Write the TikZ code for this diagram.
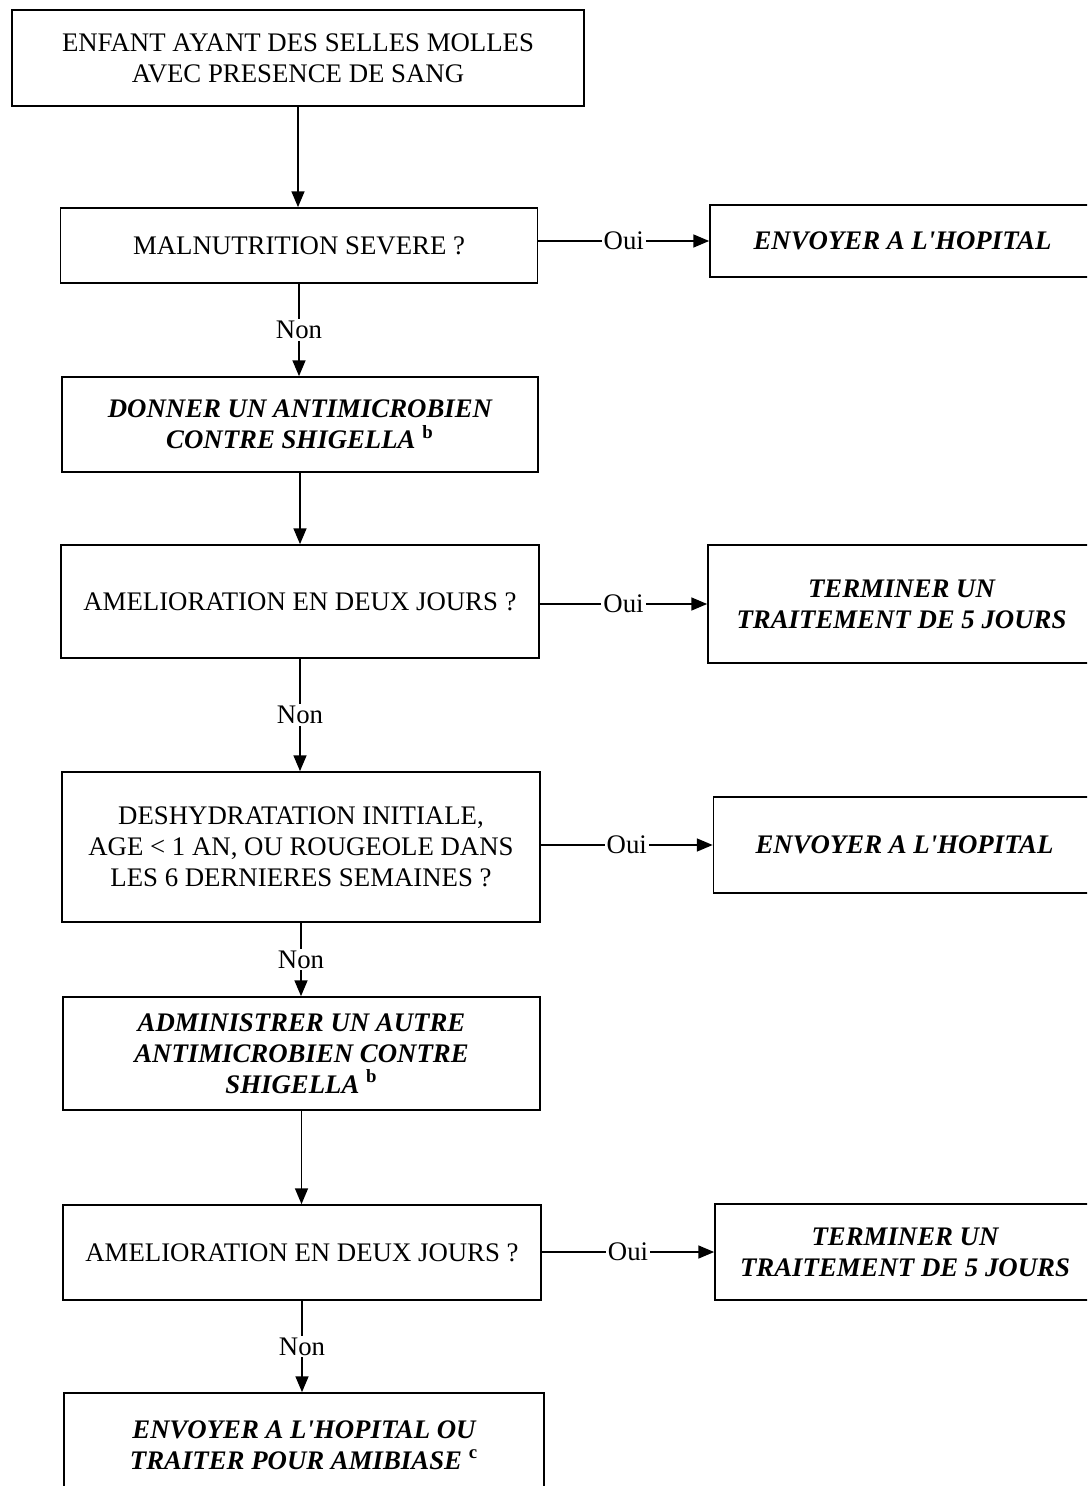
\documentclass[tikz,border=0pt]{standalone}
\usepackage{fontspec}
\setmainfont{Liberation Serif}
\usetikzlibrary{arrows}

\tikzset{
  boite/.style={draw, line width=0.9pt, rectangle, align=center, font=\fontsize{13.4}{15.5}\selectfont, inner sep=2pt},
  action/.style={boite, font=\fontsize{13.4}{15.5}\selectfont\bfseries\itshape},
  fleche/.style={line width=0.8pt, -triangle 45},
  rep/.style={fill=white, inner sep=1pt, font=\fontsize{13.4}{14}\selectfont}
}
\newcommand{\renvoi}[1]{\textsuperscript{\upshape #1}}

\begin{document}
\begin{tikzpicture}[x=0.5pt, y=-0.5pt]
  \clip (0,0) rectangle (1087,1486);
  \fill[white] (0,0) rectangle (1087,1486);

  % colonne de gauche
  \node[boite, minimum width=286pt, minimum height=48pt] (depart) at (298,58) {ENFANT AYANT DES SELLES MOLLES\\AVEC PRESENCE DE SANG};
  \node[boite, minimum width=238.5pt, minimum height=37.5pt] (malnu) at (299,245.5) {MALNUTRITION SEVERE ?};
  \node[action, minimum width=238pt, minimum height=47.5pt] (donner) at (300,424.5) {DONNER UN ANTIMICROBIEN\\CONTRE SHIGELLA \renvoi{b}};
  \node[boite, minimum width=239pt, minimum height=56.5pt] (amel) at (300,601.5) {AMELIORATION EN DEUX JOURS ?};
  \node[boite, minimum width=239pt, minimum height=75pt] (deshy) at (301,847) {DESHYDRATATION INITIALE,\\AGE < 1 AN, OU ROUGEOLE DANS\\LES 6 DERNIERES SEMAINES ?};
  \node[action, minimum width=238.5pt, minimum height=56.5pt] (autre) at (301.5,1053.5) {ADMINISTRER UN AUTRE\\ANTIMICROBIEN CONTRE\\SHIGELLA \renvoi{b}};
  \node[boite, minimum width=239pt, minimum height=47.5pt] (amelb) at (302,1252.5) {AMELIORATION EN DEUX JOURS ?};
  \node[action, minimum width=240pt, minimum height=52pt] (amib) at (304,1445) {ENVOYER A L\textquotesingle HOPITAL OU\\TRAITER POUR AMIBIASE \renvoi{c}};

  % colonne de droite
  \node[action, minimum width=192.5pt, minimum height=36pt] (hopa) at (902.5,241) {ENVOYER A L\textquotesingle HOPITAL};
  \node[action, minimum width=193.5pt, minimum height=59pt] (fina) at (901.5,604) {TERMINER UN\\TRAITEMENT DE 5 JOURS};
  \node[action, minimum width=191pt, minimum height=48pt] (hopb) at (904.5,845) {ENVOYER A L\textquotesingle HOPITAL};
  \node[action, minimum width=190pt, minimum height=48pt] (finb) at (905,1252) {TERMINER UN\\TRAITEMENT DE 5 JOURS};

  % fleches
  \draw[fleche] (depart) -- (depart |- malnu.north);
  \draw[fleche] (malnu) -- node[rep] {Non} (malnu |- donner.north);
  \draw[fleche] (donner) -- (donner |- amel.north);
  \draw[fleche] (amel) -- node[rep] {Non} (amel |- deshy.north);
  \draw[fleche] (deshy) -- node[rep] {Non} (deshy |- autre.north);
  \draw[fleche] (autre) -- (autre |- amelb.north);
  \draw[fleche] (amelb) -- node[rep] {Non} (amelb |- amib.north);

  \draw[fleche] (malnu.east |- hopa) -- node[rep] {Oui} (hopa.west);
  \draw[fleche] (amel.east |- fina) -- node[rep] {Oui} (fina.west);
  \draw[fleche] (deshy.east |- hopb) -- node[rep] {Oui} (hopb.west);
  \draw[fleche] (amelb.east |- finb) -- node[rep] {Oui} (finb.west);
\end{tikzpicture}
\end{document}
